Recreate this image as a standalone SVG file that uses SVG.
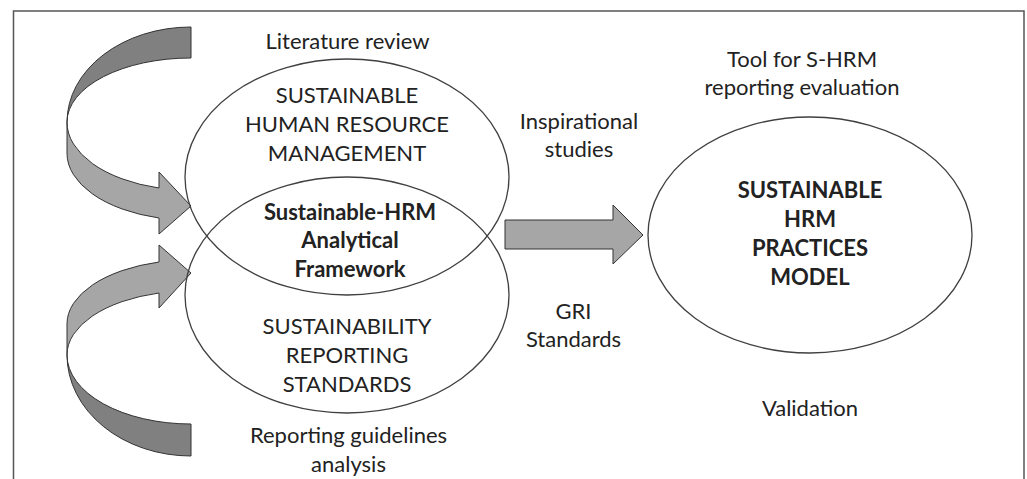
<svg xmlns="http://www.w3.org/2000/svg" width="1027" height="479" viewBox="0 0 1027 479">
<style>
.t{font-family:Lato,"Liberation Sans",sans-serif;font-size:22px;fill:#222;text-anchor:middle}
.b{font-weight:bold}
.ell{fill:none;stroke:#404040;stroke-width:1.3}
.dark{fill:#808080;stroke:#333;stroke-width:1}
.light{fill:#a6a6a6;stroke:#333;stroke-width:1}
</style>
<rect x="0" y="0" width="1027" height="479" fill="#fff"/>
<rect x="13.5" y="11" width="1010.5" height="490" fill="none" stroke="#555" stroke-width="1.5"/>
<g id="connectors">
  <g id="arrow-top">
    <path class="dark" d="M191 27 A124 95 0 0 0 67 122 A124 64 0 0 1 191 58 Z"/>
    <path class="light" d="M67 122 A124 68 0 0 0 159 188 L159 172 L191 206 L159 234 L159 218 A124 67 0 0 1 67 153 Z"/>
  </g>
  <g id="arrow-bottom">
    <path class="dark" d="M191 456 A124 101 0 0 1 67 355 A124 69 0 0 0 191 424 Z"/>
    <path class="light" d="M67 355 A124 64 0 0 1 159 293 L159 308 L191 273 L159 245 L159 262 A124 64 0 0 0 67 324 Z"/>
  </g>
  <path id="arrow-mid" class="light" d="M505 220 L613 220 L613 205 L643 235 L613 264 L613 249 L505 249 Z"/>
</g>
<g id="node-shrm">
  <ellipse class="ell" cx="347" cy="177" rx="162" ry="118"/>
  <text class="t" x="347" y="103">SUSTAINABLE</text>
  <text class="t" x="347" y="132">HUMAN RESOURCE</text>
  <text class="t" x="347" y="161">MANAGEMENT</text>
</g>
<g id="node-srs">
  <ellipse class="ell" cx="347" cy="295" rx="162" ry="118"/>
  <text class="t" x="347" y="334">SUSTAINABILITY</text>
  <text class="t" x="347" y="363">REPORTING</text>
  <text class="t" x="347" y="392">STANDARDS</text>
</g>
<g id="node-framework">
  <text class="t b" x="350" y="220">Sustainable-HRM</text>
  <text class="t b" x="350" y="248">Analytical</text>
  <text class="t b" x="350" y="277">Framework</text>
</g>
<g id="node-model">
  <ellipse class="ell" cx="810" cy="235" rx="162" ry="118"/>
  <text class="t b" x="810" y="198">SUSTAINABLE</text>
  <text class="t b" x="810" y="227">HRM</text>
  <text class="t b" x="810" y="256">PRACTICES</text>
  <text class="t b" x="810" y="285">MODEL</text>
</g>
<g id="label-literature">
  <text class="t" x="347.5" y="49">Literature review</text>
</g>
<g id="label-guidelines">
  <text class="t" x="348.5" y="443">Reporting guidelines</text>
  <text class="t" x="348.5" y="472">analysis</text>
</g>
<g id="label-inspirational">
  <text class="t" x="579" y="129">Inspirational</text>
  <text class="t" x="579" y="157">studies</text>
</g>
<g id="label-gri">
  <text class="t" x="573.5" y="319">GRI</text>
  <text class="t" x="573.5" y="347">Standards</text>
</g>
<g id="label-tool">
  <text class="t" x="802" y="67">Tool for S-HRM</text>
  <text class="t" x="802" y="95">reporting evaluation</text>
</g>
<g id="label-validation">
  <text class="t" x="810" y="416">Validation</text>
</g>
</svg>
